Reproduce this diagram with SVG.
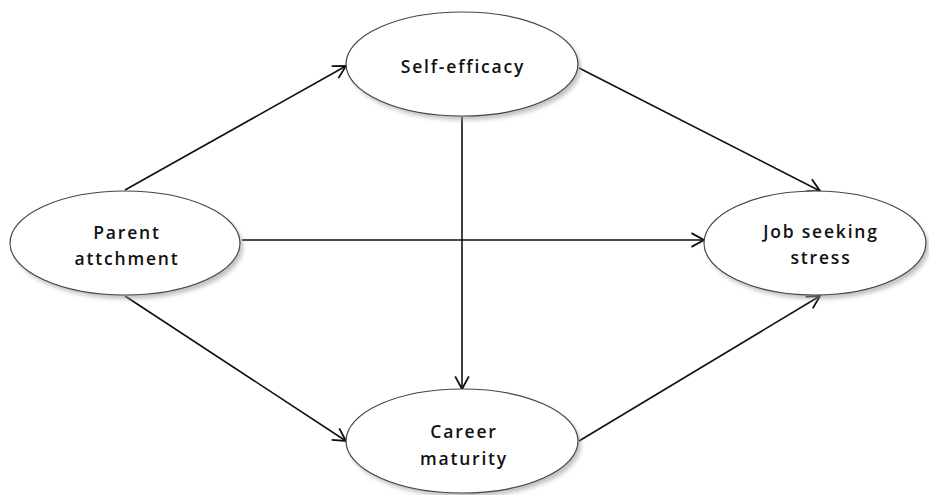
<svg xmlns="http://www.w3.org/2000/svg" width="929" height="495" viewBox="0 0 929 495">
<style>
.node ellipse{fill:#fff;stroke:#444;stroke-width:1.2}
.node ellipse.shadow{fill:#999;stroke:none;opacity:0.6;filter:url(#blur)}
.lbl{font-family:"Open Sans","DejaVu Sans",sans-serif;font-size:17.5px;font-weight:600;letter-spacing:1.8px;fill:#111;text-anchor:middle}
.edges line{stroke:#111;stroke-width:1.6;marker-end:url(#arr)}
</style>
<defs>
<filter id="blur" x="-10%" y="-10%" width="120%" height="130%"><feGaussianBlur stdDeviation="2"/></filter>
<marker id="arr" markerUnits="userSpaceOnUse" markerWidth="16" markerHeight="16" refX="12" refY="7" orient="auto" viewBox="0 0 14 14">
<path d="M1,1 L12,7 L1,13" fill="none" stroke="#111" stroke-width="1.6"/>
</marker>
</defs>
<g class="edges">
<line x1="125" y1="190" x2="346" y2="66"/>
<line x1="242" y1="240" x2="704" y2="240"/>
<line x1="125" y1="296" x2="346" y2="441"/>
<line x1="579" y1="68" x2="820" y2="191"/>
<line x1="462" y1="117" x2="462" y2="389"/>
<line x1="579" y1="441" x2="820" y2="296"/>
</g>
<g id="parent" class="node">
<ellipse class="shadow" cx="128" cy="247" rx="115" ry="52"/>
<ellipse cx="125" cy="243" rx="115" ry="52"/>
<text class="lbl" x="127" y="239">Parent</text>
<text class="lbl" x="127" y="265">attchment</text>
</g>
<g id="self" class="node">
<ellipse class="shadow" cx="465" cy="68" rx="116" ry="52"/>
<ellipse cx="462" cy="64" rx="116" ry="52"/>
<text class="lbl" x="463" y="73">Self-efficacy</text>
</g>
<g id="job" class="node">
<ellipse class="shadow" cx="818" cy="247" rx="111" ry="52"/>
<ellipse cx="815" cy="243" rx="111" ry="52"/>
<text class="lbl" x="821" y="238">Job seeking</text>
<text class="lbl" x="821" y="264">stress</text>
</g>
<g id="career" class="node">
<ellipse class="shadow" cx="465" cy="445" rx="116" ry="52"/>
<ellipse cx="462" cy="441" rx="116" ry="52"/>
<text class="lbl" x="464" y="438">Career</text>
<text class="lbl" x="464" y="465">maturity</text>
</g>
</svg>
